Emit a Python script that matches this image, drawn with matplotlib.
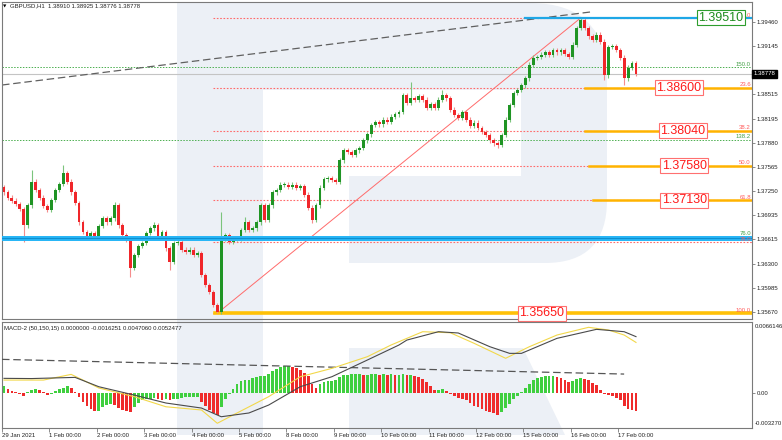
import matplotlib.pyplot as plt
from matplotlib.path import Path
from matplotlib.patches import PathPatch
from matplotlib.transforms import blended_transform_factory
import numpy as np

plt.rcParams['font.family'] = ['Liberation Sans', 'DejaVu Sans']

# GBPUSD H1, grouped as 2-hour candles (close prices)
close = [
    1.3723, 1.3716, 1.3712, 1.3708, 1.3701, 1.3680, 1.3706, 1.3737, 1.3726, 1.3716,
    1.3705, 1.3700, 1.3713, 1.3726, 1.3734, 1.3748, 1.3737, 1.3723, 1.3709, 1.3684,
    1.3671, 1.3666, 1.3670, 1.3666, 1.3679, 1.3689, 1.3684, 1.3689, 1.3706, 1.3680,
    1.3667, 1.3661, 1.3624, 1.3641, 1.3653, 1.3657, 1.3670, 1.3676, 1.3680, 1.3666,
    1.3671, 1.3650, 1.3632, 1.3657, 1.3658, 1.3648, 1.3645, 1.3648, 1.3641, 1.3644,
    1.3615, 1.3602, 1.3593, 1.3576, 1.3567, 1.3663, 1.3667, 1.3658, 1.3663, 1.3663,
    1.3674, 1.3684, 1.3674, 1.3676, 1.3684, 1.3706, 1.3687, 1.3706, 1.3723, 1.3726,
    1.3733, 1.3733, 1.3730, 1.3733, 1.3729, 1.3731, 1.3720, 1.3703, 1.3687, 1.3706,
    1.3729, 1.3740, 1.3742, 1.3739, 1.3737, 1.3765, 1.3778, 1.3776, 1.3772, 1.3778,
    1.3781, 1.3791, 1.3799, 1.3811, 1.3815, 1.3812, 1.3818, 1.3815, 1.3822, 1.3825,
    1.3828, 1.3850, 1.3840, 1.3846, 1.3844, 1.3849, 1.3844, 1.3833, 1.3838, 1.3833,
    1.3844, 1.3850, 1.3846, 1.3831, 1.3824, 1.3820, 1.3828, 1.3818, 1.3810, 1.3814,
    1.3807, 1.3802, 1.3798, 1.3791, 1.3787, 1.3785, 1.3798, 1.3818, 1.3837, 1.3853,
    1.3857, 1.3863, 1.3872, 1.3890, 1.3899, 1.3900, 1.3903, 1.3906, 1.3903, 1.3909,
    1.3906, 1.3909, 1.3904, 1.3900, 1.3916, 1.3938, 1.3948, 1.3938, 1.3927, 1.3922,
    1.3929, 1.3920, 1.3876, 1.3913, 1.3914, 1.3909, 1.3899, 1.3872, 1.3886, 1.3892,
    1.3878,
]
first_open = 1.3730
# longer wicks visible on the chart (candle index: price)
wick_high = {7: 1.3752, 15: 1.3759, 28: 1.3710, 38: 1.3684, 55: 1.3697, 61: 1.3691,
             103: 1.3867, 111: 1.3857, 146: 1.3951}
wick_low = {5: 1.3658, 32: 1.3612, 42: 1.3622, 54: 1.3565, 78: 1.3683, 125: 1.3781,
            152: 1.3870, 157: 1.3863}

day_labels = ['29 Jan 2021', '1 Feb 00:00', '2 Feb 00:00', '3 Feb 00:00', '4 Feb 00:00',
              '5 Feb 00:00', '8 Feb 00:00', '9 Feb 00:00', '10 Feb 00:00', '11 Feb 00:00',
              '12 Feb 00:00', '15 Feb 00:00', '16 Feb 00:00', '17 Feb 00:00']
price_ticks = [1.39460, 1.39145, 1.38515, 1.38195, 1.37880, 1.37565, 1.37250,
               1.36935, 1.36615, 1.36300, 1.35985, 1.35670]
last_price = 1.38778

# MACD-2 (50,150,15)
hist = [
    0.0006, 0.0004, 0.0002, 0.0001, -0.0001, -0.0003, 0.0001, 0.0003, 0.0004, 0.0003,
    0.0001, -0.0002, -0.0001, 0.0002, 0.0004, 0.0005, 0.0006, 0.0005, 0.0001, -0.0004,
    -0.0008, -0.0012, -0.0015, -0.0017, -0.0017, -0.0013, -0.0011, -0.0010, -0.0011, -0.0014,
    -0.0016, -0.0017, -0.0018, -0.0013, -0.0009, -0.0007, -0.0006, -0.0006, -0.0005, -0.0006,
    -0.0007, -0.0006, -0.0007, -0.0006, -0.0006, -0.0005, -0.0004, -0.0004, -0.0004, -0.0004,
    -0.0008, -0.0012, -0.0016, -0.0019, -0.0021, -0.0013, -0.0006, -0.0001, 0.0004, 0.0008,
    0.0011, 0.0012, 0.0012, 0.0014, 0.0015, 0.0016, 0.0016, 0.0018, 0.0020, 0.0022,
    0.0024, 0.0025, 0.0025, 0.0024, 0.0023, 0.0021, 0.0019, 0.0016, 0.0008, 0.0005,
    0.0008, 0.0010, 0.0011, 0.0011, 0.0012, 0.0015, 0.0017, 0.0017, 0.0018, 0.0018,
    0.0018, 0.0017, 0.0017, 0.0018, 0.0018, 0.0017, 0.0018, 0.0017, 0.0018, 0.0017,
    0.0017, 0.0018, 0.0017, 0.0017, 0.0016, 0.0015, 0.0013, 0.0010, 0.0006, 0.0003,
    0.0003, 0.0004, 0.0002, -0.0001, -0.0003, -0.0005, -0.0006, -0.0007, -0.0009, -0.0012,
    -0.0013, -0.0015, -0.0017, -0.0018, -0.0019, -0.0021, -0.0018, -0.0014, -0.0010, -0.0006,
    -0.0003, 0.0001, 0.0005, 0.0008, 0.0012, 0.0014, 0.0015, 0.0016, 0.0016, 0.0016,
    0.0015, 0.0014, 0.0012, 0.0010, 0.0011, 0.0013, 0.0014, 0.0013, 0.0012, 0.0009,
    0.0007, 0.0003, -0.0001, -0.0002, -0.0003, -0.0005, -0.0007, -0.0012, -0.0015, -0.0016,
    -0.0017,
]
macd_idx = [0, 7, 18, 24, 33, 41, 50, 55, 62, 67, 75, 83, 92, 100, 102, 110, 115, 123,
            128, 131, 140, 150, 157, 160]
macd_val = [0.00136, 0.00134, 0.00145, 0.00058, -0.00020, -0.00094, -0.00141, -0.00222,
            -0.00187, -0.00113, 0.00058, 0.00151, 0.00307, 0.00447, 0.00493, 0.00571,
            0.00559, 0.00431, 0.00369, 0.00369, 0.00509, 0.00593, 0.00571, 0.00525]
sig_idx = [0, 10, 17, 20, 24, 33, 41, 50, 54, 58, 67, 75, 83, 92, 98, 106, 113, 119,
           127, 133, 140, 148, 153, 157, 160]
sig_val = [0.00120, 0.00120, 0.00173, 0.00120, 0.00046, -0.00035, -0.00129, -0.00159,
           -0.00283, -0.00206, -0.00035, 0.00151, 0.00229, 0.00338, 0.00447, 0.00571,
           0.00561, 0.00463, 0.00323, 0.00431, 0.00540, 0.00612, 0.00587, 0.00540, 0.00471]

# Fibonacci grid drawn from the 4 Feb low to the 16 Feb high
fib_low_idx, fib_high_idx = 54, 146
fib_pct = ['0.0', '23.6', '38.2', '50.0', '61.8', '76.0', '100.0']
fib_price = [1.39510, 1.38600, 1.38035, 1.37580, 1.37125, 1.36576, 1.35650]
target_prices = ['1.38600', '1.38040', '1.37580', '1.37130']
target_start = [147, 147, 148, 149]
ext_pct = ['150.0', '138.2', '76.0']
ext_price = [1.38864, 1.37920, 1.36660]
support_price = 1.36635
trend_idx = [-0.5, 149]
trend_price = [1.38633, 1.39591]
macd_trend_idx = [-0.5, 157]
macd_trend_val = [0.00313, 0.00176]

W, H = 782, 440
fig = plt.figure(figsize=(W / 100, H / 100), dpi=100)
fig.patch.set_facecolor('white')

# watermark logo in the background
wm = '#ecf0f6'
r_verts = [(177, 3), (530, 3), (607, 3), (607, 80), (607, 200), (607, 263), (545, 263),
           (349, 263), (349, 176), (521, 176), (521, 90), (263, 90), (263, 435),
           (177, 435), (177, 3)]
r_codes = [Path.MOVETO, Path.LINETO, Path.CURVE3, Path.CURVE3, Path.LINETO, Path.CURVE3,
           Path.CURVE3, Path.LINETO, Path.LINETO, Path.LINETO, Path.LINETO, Path.LINETO,
           Path.LINETO, Path.LINETO, Path.CLOSEPOLY]
leg = [(349, 348), (523, 348), (565, 435), (349, 435), (349, 348)]
leg_codes = [Path.MOVETO, Path.LINETO, Path.LINETO, Path.LINETO, Path.CLOSEPOLY]
for verts, codes in [(r_verts, r_codes), (leg, leg_codes)]:
    pv = [(x / W, 1 - y / H) for x, y in verts]
    fig.add_artist(PathPatch(Path(pv, codes), facecolor=wm, edgecolor='none',
                             transform=fig.transFigure, zorder=-1))

ax = fig.add_axes([2 / W, 1 - 319 / H, 750 / W, 317 / H])
ax2 = fig.add_axes([2 / W, 1 - 428 / H, 750 / W, 106 / H])
xlim = (-0.506, 189.37)
small = 4.3
for a in (ax, ax2):
    a.set_facecolor('none')
    a.set_xlim(*xlim)
    for s in a.spines.values():
        s.set_color('#7a7a7a')
        s.set_linewidth(0.8)
    a.yaxis.tick_right()
    a.tick_params(axis='y', length=2, width=0.6, pad=1.5, labelsize=small,
                  colors='#7a7a7a', labelcolor='#222222')

ax.set_ylim(1.35575, 1.39718)

# ---- main chart ----
n = len(close)
idx = np.arange(n)
c = np.array(close)
o = np.r_[first_open, c[:-1]]
hi = np.maximum(o, c) + 0.0003
lo = np.minimum(o, c) - 0.0003
for k, v in wick_high.items():
    hi[k] = v
for k, v in wick_low.items():
    lo[k] = v
up = c >= o
ax.vlines(idx, lo, hi, colors=np.where(up, '#7cc47c', '#f58c8c'), lw=0.8, zorder=3)
body = np.where(np.abs(c - o) < 0.00006, 0.00006, c - o)
ax.bar(idx, body, bottom=o, width=0.72, color=np.where(up, '#1f9424', '#f0262a'),
       linewidth=0, zorder=4)

xmax = xlim[1]
red_dot = dict(color='#ff6b6b', lw=0.8, ls=(0, (1.5, 1.5)))
# extension levels (green)
for p in ext_price:
    ax.plot([xlim[0], xmax], [p, p], color='#4caf50', lw=0.7, ls=(0, (1.5, 1.5)), zorder=2)
ax.plot([xlim[0], xmax], [last_price, last_price], color='#c4c4c4', lw=0.8, zorder=2)
# fibo levels
for p in fib_price:
    ax.plot([fib_low_idx - 1, xmax], [p, p], zorder=2, **red_dot)
for p, s in zip(fib_price[1:5], target_start):
    ax.plot([s, xmax], [p, p], color='#ffb300', lw=1.8, zorder=2.5)
ax.plot([fib_low_idx - 0.5, xmax], [fib_price[-1]] * 2, color='#ffc107', lw=2.6, zorder=2.5)
ax.plot([132, xmax], [fib_price[0]] * 2, color='#1ea7e6', lw=1.6, zorder=5)
ax.plot([xlim[0], xmax], [support_price] * 2, color='#29b6f6', lw=3.6, zorder=5)
ax.plot([xlim[0], xmax], [support_price] * 2, color='#0e8fd0', lw=0.8, zorder=5)
ax.plot([fib_low_idx, fib_high_idx], [fib_price[-1], fib_price[0]], color='#ff6b6b',
        lw=0.7, zorder=2)
ax.plot(trend_idx, trend_price, color='#606060', lw=0.9, ls=(0, (6, 3)), zorder=2)

# level captions
for t, p in zip(fib_pct, fib_price):
    ax.text(189.1, p + 0.00005, t, ha='right', va='bottom', fontsize=small,
            color='#ff5c5c', zorder=6)
for t, p in zip(ext_pct, ext_price):
    ax.text(189.1, p + 0.00005, t, ha='right', va='bottom', fontsize=small,
            color='#43a047', zorder=6)

# price boxes
box_x = [170.9, 171.9, 172.2, 172.2]
for t, p, bx in zip(target_prices, fib_price[1:5], box_x):
    ax.text(bx, p, t, ha='center', va='center', fontsize=9, color='#ff1a1a', zorder=8,
            bbox=dict(boxstyle='square,pad=0.12', fc='white', ec='#ff7070', lw=0.8))
ax.text(181.5, fib_price[0], '1.39510', ha='center', va='center', fontsize=9,
        color='#1e8c1e', zorder=8,
        bbox=dict(boxstyle='square,pad=0.12', fc='white', ec='#2e9e2e', lw=0.8))
ax.text(136.2, fib_price[-1], '1.35650', ha='center', va='center', fontsize=9,
        color='#ff1a1a', zorder=8,
        bbox=dict(boxstyle='square,pad=0.12', fc='white', ec='#ff7070', lw=0.8))

ax.set_yticks(price_ticks)
ax.set_yticklabels([f'{p:.5f}' for p in price_ticks])
ax.tick_params(axis='x', length=0, labelbottom=False)
tr = blended_transform_factory(ax.transAxes, ax.transData)
ax.text(1.002, last_price, f'{last_price:.5f}', transform=tr, ha='left', va='center',
        fontsize=small, color='white', zorder=9, clip_on=False,
        bbox=dict(boxstyle='square,pad=0.25', fc='black', ec='black'))

fig.text(3 / W, 1 - 6 / H, '\u25bc', fontsize=3.2, family='DejaVu Sans', va='center')
fig.text(10 / W, 1 - 6 / H, 'GBPUSD,H1  1.38910 1.38925 1.38776 1.38778',
         fontsize=small, color='#222222', va='center')

# ---- MACD panel ----
ax2.set_ylim(-0.00327, 0.0066146)
h = np.array(hist)
rising = np.r_[True, h[1:] >= h[:-1]]
ax2.bar(idx, h, width=0.7, color=np.where(rising, '#3fcf3f', '#ef2b2b'), linewidth=0,
        zorder=2)
ax2.plot(macd_trend_idx, macd_trend_val, color='#555555', lw=0.9, ls=(0, (6, 3)), zorder=3)
ax2.plot(sig_idx, sig_val, color='#f2d84a', lw=0.8, zorder=3)
ax2.plot(macd_idx, macd_val, color='#4a4a4a', lw=0.8, zorder=3)
ax2.set_yticks([0])
ax2.set_yticklabels(['0.00'])
ax2.text(1.004, 0.985, '0.0066146', transform=ax2.transAxes, ha='left', va='top',
         fontsize=small, color='#222222', clip_on=False)
ax2.text(1.004, 0.015, '-0.003270', transform=ax2.transAxes, ha='left', va='bottom',
         fontsize=small, color='#222222', clip_on=False)
ax2.text(0.002, 0.965, 'MACD-2 (50,150,15) 0.0000000 -0.0016251 0.0047060 0.0052477',
         transform=ax2.transAxes, ha='left', va='top', fontsize=small, color='#222222')

ax2.set_xticks([12 * k - 0.5 for k in range(len(day_labels))])
ax2.set_xticklabels(day_labels)
ax2.tick_params(axis='x', length=3, width=0.6, pad=0.5, labelsize=small,
                colors='#7a7a7a', labelcolor='#222222')
for lbl in ax2.get_xticklabels():
    lbl.set_ha('left')

fig.savefig('out.png', dpi=100)
